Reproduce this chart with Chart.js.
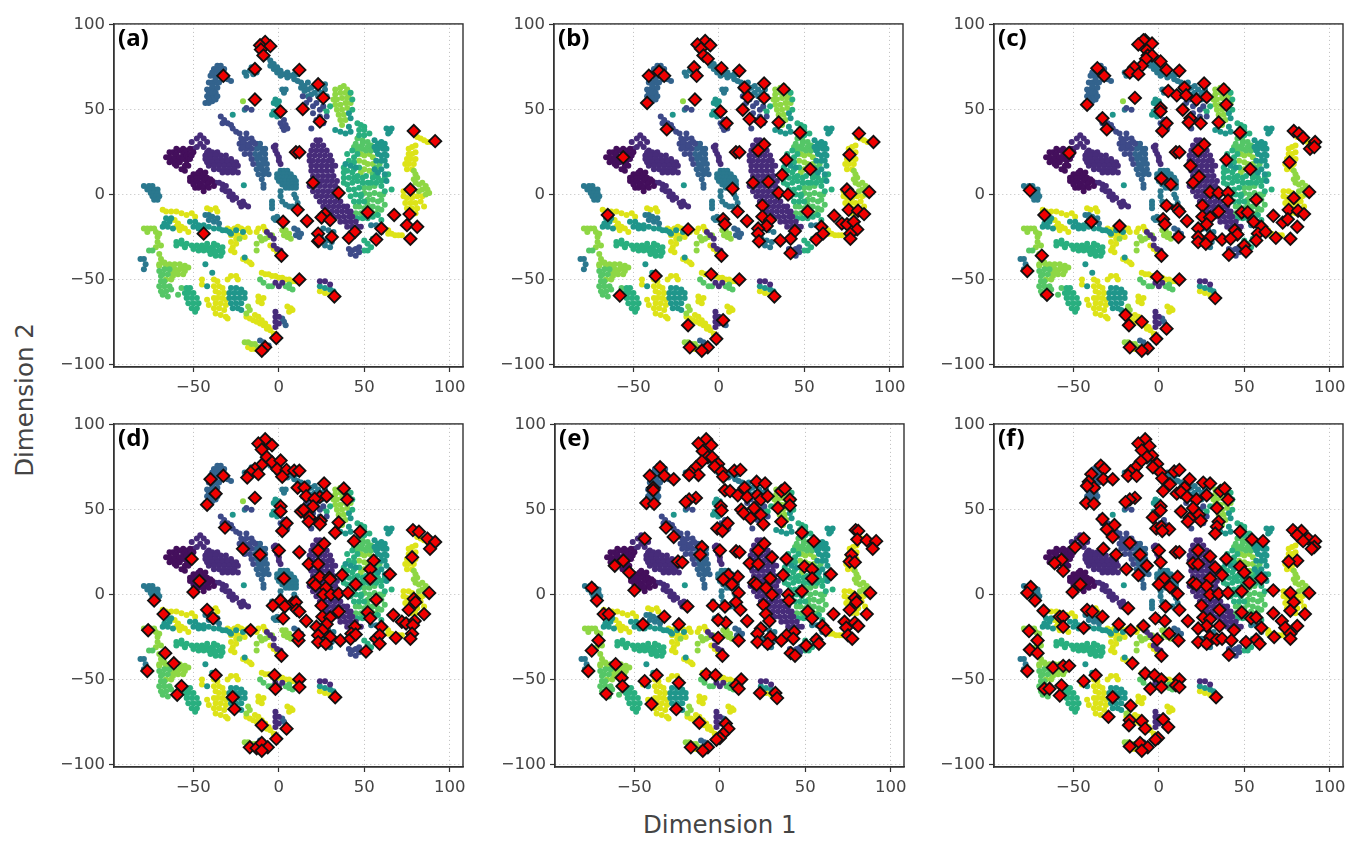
<!DOCTYPE html>
<html>
<head>
<meta charset="utf-8">
<title>t-SNE panels</title>
<script src="https://cdn.jsdelivr.net/npm/chart.js@4/dist/chart.umd.min.js"></script>
<style>
  html, body { margin: 0; padding: 0; background: #fff; width: 1364px; height: 841px; overflow: hidden; }
  canvas { position: absolute; filter: blur(0.35px); }
  .tag { position: absolute; font: bold 24px "Noto Sans", sans-serif; color: #000; }
  .axis-title { position: absolute; font: 24.5px "DejaVu Sans", sans-serif; color: #444; white-space: nowrap; }
</style>
</head>
<body>
<script>
const xTicks = [-50, 0, 50, 100];
const yTicks = [-100, -50, 0, 50, 100];
const xTitle = 'Dimension 1';
const yTitle = 'Dimension 2';
const panelTags = ['(a)', '(b)', '(c)', '(d)', '(e)', '(f)'];

// background cloud, same in every panel, split by colour band
const bg0 = [[-66,22],[-64,25],[-64,22],[-64,19],[-62,25],[-62,20],[-61,22],[-61,18],[-60,27],[-60,24],[-59,20],[-60,17],[-58,26],[-58,22],[-58,19],[-57,15],[-56,27],[-56,24],[-56,21],[-55,25],[-55,17],[-55,14],[-54,26],[-54,23],[-54,20],[-53,22],[-53,17],[-52,27],[-52,24],[-52,21],[-51,23],[-50,25],
  [-52,10],[-52,8],[-50,12],[-50,9],[-50,7],[-50,6],[-49,4],[-48,12],[-48,10],[-48,8],[-47,13],[-47,7],[-47,4],[-46,14],[-46,10],[-46,6],[-45,11],[-45,5],[-44,12],[-44,8],[-44,4],[-44,2],[-43,13],[-43,9],[-42,10],[-42,6],[-41,7],[-41,4],[-40,9],[-39,8],[-38,5]];
const bg1 = [[-51,31],[-50,27],[-48,28],[-48,33],[-46,35],[-46,30],[-44,33],[-44,28],[-42,31],[-41,26],
  [-42,25],[-39,25],[-36,25],[-43,23],[-40,23],[-37,23],[-34,23],[-31,23],[-43,21],[-40,21],[-37,21],[-34,21],[-31,21],[-28,21],[-42,19],[-39,19],[-36,19],[-33,19],[-30,19],[-27,19],[-25,19],[-41,17],[-38,17],[-35,17],[-32,17],[-29,17],[-26,17],[-24,17],[-38,15],[-35,15],[-32,15],[-29,15],[-26,15],[-33,13],[-30,13],[-27,13],[-24,13],
  [-37,7],[-35,7],[-33,6],[-33,3],[-31,5],[-31,2],[-29,2],[-29,-1],[-27,0],[-27,-3],[-25,-2],[-23,-5],[-21,-4],[-20,-6],[-22,-7],[-18,-7],
  [-2,29],[-3,28],[-2,26],[-1,24],[0,22],[0,20],[1,18],
  [22,32],[24,32],[20,29],[23,29],[26,29],[19,26],[22,26],[25,26],[28,26],[18,23],[21,23],[24,23],[27,23],[30,23],[18,20],[20,20],[23,20],[26,20],[29,20],[31,20],[19,17],[22,17],[25,17],[28,17],[31,17],[33,17],[19,14],[22,14],[25,14],[28,14],[31,14],[20,11],[23,11],[26,11],[29,11],[32,11],[19,8],[22,8],[25,8],[28,8],[31,8],[34,8],[18,5],[21,5],[24,5],[27,5],[30,5],[33,5],[20,2],[23,2],[26,2],[29,2],[32,2],[35,2],[22,-1],[25,-1],[28,-1],[31,-1],[34,-1],[24,-4],[27,-4],[30,-4],[33,-4],[36,-4],[26,-7],[29,-7],[32,-7],[35,-7],[38,-7],[40,-7],[28,-10],[31,-10],[34,-10],[37,-10],[40,-10],[42,-10],[32,-13],[35,-13],[38,-13],[41,-13],[43,-13],[36,-16],[39,-16],[42,-16],[45,-16],[40,-19],[43,-19],[46,-19],[48,-19],
  [-7,-22],[-5,-24],[-3,-26],[-3,-30],[-1,-32],[1,-33],[-2,-52],[0,-54],[2,-52],[24,-51],[27,-51],[30,-53],[-2,-69],[-2,-72],[-2,-75],[0,-72],[0,-76],[-2,-78]];
const bg2 = [[-34,46],[-32,44],[-33,42],[-30,42],[-28,41],[-27,39],[-25,37],[-23,36],
  [-19,36],[-22,33],[-19,33],[-16,33],[-23,30],[-20,30],[-17,30],[-14,30],[-22,27],[-19,27],[-16,27],[-20,24],[-17,24],[-16,21],[-15,18],[-21,31],[-18,29],[-15,31],[-21,28],
  [14,58],[16,54],[18,56],[20,52],[22,54],[24,50],[26,52],[20,48],[22,44],[24,46],[26,42],[28,46],[19,39],[-19,51],[-16,50],[1,42],[2,40],[3,38],[4,41],[5,39],[3,44],
  [41,-32],[43,-33],[45,-32],[47,-34],[42,-35],[45,-36],[47,-31]];
const bg3 = [[-13,30],[-11,30],[-13,27],[-10,27],[-8,27],[-14,24],[-11,24],[-8,24],[-13,21],[-10,21],[-8,21],[-12,18],[-9,18],[-7,18],[-13,15],[-10,15],[-7,15],[-12,12],[-9,12],[-6,12],[-10,9],[-9,6],[-9,4],[-12,28],[-9,25],[-12,22],[-9,19],[-11,16],[-8,13],
  [9,-20],[11,-21],[10,-24],[12,-25],[13,-23],[2,-73],[3,-75],[4,-77],[-11,-86],[-9,-87],[-8,-89],[-6,-89],
  [-36,76],[-34,76],[-38,74],[-36,73],[-34,73],[-32,74],[-40,70],[-38,70],[-36,70],[-34,70],[-41,66],[-39,66],[-37,66],[-35,66],[-42,62],[-40,62],[-38,62],[-42,58],[-40,58],[-38,58],[-43,54],[-41,54],[-39,55],[-30,68],[-28,67],[-33,72],[-39,72],[-37,68],[-33,68],[-39,64],[-41,60],[-39,60],[-37,60],[-41,56],[-37,56],[-36,63],[-36,58]];
const bg4 = [[-7,81],[-5,79],[-5,76],[-3,77],[-3,74],[-1,75],[-1,72],[1,73],[1,70],[3,71],[5,72],[5,69],[7,70],[9,71],[9,68],[11,71],[11,67],[13,66],[13,63],[15,64],[15,61],[17,66],[17,62],[17,58],[19,63],[19,59],[21,64],[21,60],[23,62],[23,58],[25,60],[25,56],[27,65],[27,62],[28,58],
  [1,14],[3,14],[5,14],[-1,12],[1,12],[3,12],[5,12],[7,12],[-1,10],[1,10],[3,10],[5,10],[7,10],[9,10],[0,8],[2,8],[4,8],[6,8],[8,8],[10,8],[2,6],[4,6],[6,6],[8,6],[10,6],[4,4],[6,4],[8,4],[10,4],[1,2],[1,-1],[2,-4],[4,-6],[6,-7],[8,-7],[10,-2],[9,0],[11,-5],[-4,-4],[-4,-6],[-4,-8],
  [-76,5],[-74,5],[-79,5],[-77,3],[-75,3],[-73,3],[-71,3],[-75,1],[-73,1],[-71,1],[-74,-1],[-72,-1],[-70,-1],[-73,-3],[-71,-3],
  [-20,72],[-19,70],[-17,73],[-16,75],[-15,71],[-13,72],[-20,50],[2,62],[4,62],[3,60],[-3,-14],[-2,-15],[0,-15],[-1,-13],
  [23,-22],[26,-20],[29,-21],[32,-22],[25,-26],[28,-27],[31,-28],[27,-30],[30,-31],[54,-18],[57,-18],[60,-22],[-81,-38],[-79,-38],[-78,-41],[-79,-44],
  [-43,-12],[-41,-12],[-39,-13],[-41,-15],[-38,-16],[-36,-14],[-35,-17]];
const bg5 = [[-27,47],[-3,54],[-2,56],[-1,53],[0,55],[-3,49],[-4,47],[-1,46],[0,48],[-20.5,5.5],[63,39],[65,37],[66,39],[64,36],[33,38],[36,37],[39,36],[42,37],[41,48],[42,45],[41,40],
  [56,32],[58,30],[60,31],[62,30],[56,28],[58,27],[61,27],[63,27],[58,24],[60,23],[62,24],[57,20],[60,20],[62,20],[63,17],[60,15],[62,12],[63,8],[39,18],[42,17],[45,16],[57,26],[60,29],[63,23],[58,13],[56,15],
  [-28,-55],[-25,-55],[-22,-56],[-29,-58],[-26,-58],[-23,-58],[-20,-58],[-29,-61],[-26,-61],[-23,-61],[-20,-61],[-28,-64],[-25,-64],[-22,-64],[-27,-67],[-24,-67],[-22,-68],
  [-68,-19],[-65,-19],[-62,-20],[-67,-17],[-66,-14],[-63,-14],[-64,-16],[-52,-16],[-49,-16],[-47,-18],[-50,-19],[-47,-20],[-44,-20],[-47,-19],[-44,-18],[-41,-19],[-38,-20],[-35,-20],[-33,-21],[-31,-21],[-29,-22],[-25,-21],[-21,-22],[-28,-23],[-20,-37],[-43,-41],[-39,-46],[-42,-54],[24,-54],[27,-55],[30,-56],[32,-57]];
const bg6 = [[26,51],[28,49],[30,52],[42,60],[43,56],[43,50],[46,42],[48,41],[50,40],[47,38],[50,38],[53,36],[50,35],[47,35],[40,24],[43,26],[44,22],[41,20],[38,16],[44,19],[46,24],[44,15],[47,16],[46,11],[49,10],[51,11],[49,7],[52,7],[54,7],[62,2],[60,8],[64,12],[48,-1],
  [38,13],[40,14],[43,13],[38,10],[41,10],[44,10],[38,7],[40,6],[43,7],[46,8],[41,3],[44,3],[47,4],[42,-1],[45,0],[48,0],[44,-4],[47,-4],[50,-4],[46,-14],[49,-14],[52,-14],[55,-13],[58,-12],[60,-15],
  [50,-27],[52,-29],[54,-31],[52,-33],[50,-33],[55,-26],[55,10],[58,10],[62,10],[57,7],[60,5],[57,12],[66,3],
  [-60,-28],[-57,-29],[-54,-29],[-51,-30],[-48,-30],[-45,-30],[-42,-31],[-39,-31],[-36,-30],[-33,-31],[-60,-30],[-47,-33],[-44,-33],[-41,-33],[-38,-33],[-35,-33],[-33,-34],[-40,-35],[-37,-36],[-34,-36],[-37,-34],[-45,-31],[-55,-31],[-50,-32],[-57,-27],[-42,-29],[-38,-29],
  [-54,-55],[-52,-55],[-55,-58],[-53,-58],[-50,-58],[-54,-61],[-51,-61],[-48,-61],[-53,-64],[-50,-64],[-47,-64],[-51,-67],[-48,-67],[-49,-69]];
const bg7 = [[45,30],[47,28],[49,27],[51,26],[50,4],[53,4],[56,5],[50,1],[53,0],[56,1],[59,0],[52,-3],[55,-3],[58,-4],[52,-6],[55,-7],[58,-8],[50,-8],[48,-11],[45,-11],[43,-12],[46,33],[49,32],[52,31],[54,29],[49,30],[52,28],[54,26],[57,16],[55,12],[59,18],[46,26],[44,28],[60,-3],[62,-6],[60,-9],[57,-11],[54,-10],[51,-11],[47,-7],[45,-7],[61,0],
  [-74,-33],[-76,-33],[-70,-45],[-67,-44],[-64,-44],[-68,-47],[-65,-47],[-69,-51],[-67,-51],[-70,-54],[-67,-54],[-64,-54],[-69,-57],[-66,-57],[-63,-56],[-68,-59],[-65,-60],[-59,-59],[-57,-55],[-53,-57],[-69,-48],
  [-11,-50],[-9,-52],[-6,-54],[-4,-54],[4,-54],[6,-55],[8,-56],[6,-53]];
const bg8 = [[33,62],[36,63],[38,64],[40,62],[33,59],[36,60],[39,60],[41,59],[32,56],[34,56],[37,57],[40,57],[33,53],[36,53],[39,54],[42,54],[34,50],[37,50],[40,51],[35,47],[38,47],[36,44],[39,44],[37,41],
  [48,24],[50,23],[53,24],[55,22],[47,20],[50,19],[52,18],[55,18],[50,15],[53,14],[48,13],[79,14],[80,12],[81,10],[79,9],[80,7],[82,6],[84,7],[86,5],[87,3],[84,3],[82,2],[88,1],[86,0],
  [-79,-20],[-77,-20],[-75,-20],[-73,-20],[-72,-22],[-77,-22],[-71,-25],[-71,-28],[-72,-31],[-70,-23],[-69,-30],[-70,-35],[-69,-38],[-70,-41],[-68,-40],[-70,-42],[-67,-40],[-64,-41],[-61,-41],[-58,-41],[-55,-42],[-53,-43],[-61,-44],[-58,-44],[-55,-45],[-62,-48],[-59,-47],[-66,-50],[-63,-50],[-63,-43],[-60,-46],[-57,-43],[-66,-42],[-62,-46],[-56,-47],
  [-21,55],[-23,-26],[-10,-27],[-8,-26],[-6,-25],[-4,-24],[-11,-25],[-13,-29],[-13,-33],[2,-21],[4,-21],[6,-23],[3,-24],[5,-25],[7,-26],[-18,-66],[-17,-68],[-19,-70],[-20,-87],[-18,-87],[-16,-88],[-14,-88],[-12,-90]];
const bg9 = [[78,28],[80,29],[76,27],[76,24],[78,24],[80,25],[75,21],[77,21],[80,21],[74,18],[76,18],[79,18],[75,15],[78,15],
  [73,2],[76,2],[78,1],[73,-1],[75,-2],[78,-2],[81,-1],[84,-1],[74,-5],[77,-5],[80,-5],[83,-4],[75,-8],[78,-8],[81,-8],[85,-7],[77,-11],[80,-11],
  [81,34],[83,33],[85,32],[87,31],[89,31],[64,-21],[66,-23],[68,-24],[70,-24],[72,-24],[64,-23],
  [-68,-9],[-66,-10],[-63,-10],[-60,-10],[-57,-11],[-54,-12],[-51,-11],[-49,-13],[-61,-15],[-59,-17],[-57,-19],[-55,-20],[-60,-19],[-58,-21],[-53,-22],
  [-42,-8],[-40,-9],[-37,-8],[-36,-10],[-30,-20],[-28,-21],[-26,-20],[-24,-19],[-22,-20],[-20,-21],[-18,-20],[-28,-24],[-25,-23],[-22,-24],[-20,-25],[-17,-22],
  [-28,-28],[-27,-31],[-26,-34],[-25,-29],[-28,-33],[-25,-26],[-12,-20],[-9,-19],[-13,-22],[-8,-21],[-5,-30],[-3,-32],[-1,-34],[1,-36],[-21,-38],[-19,-39],[-17,-40],[-16,-41],
  [-10,-46],[-8,-47],[-6,-47],[-4,-48],[-2,-48],[0,-49],[2,-49],[4,-50],[6,-50],[8,-51],[10,-51],[24,-57],[27,-58],[30,-59],
  [-38,-50],[-36,-51],[-38,-54],[-35,-54],[-33,-55],[-37,-57],[-35,-58],[-32,-58],[-38,-61],[-36,-61],[-33,-61],[-31,-62],[-37,-64],[-34,-64],[-31,-65],[-38,-67],[-35,-67],[-32,-68],[-37,-70],[-34,-71],[-31,-72],[-30,-73],[-42,-62],[-41,-65],[-45,-50],[-45,-53],[-28,-48],[-25,-48],[-24,-50],[-30,-50],
  [-12,-60],[-11,-62],[-10,-64],[-12,-63],[-9,-61],[5,-66],[7,-67],[8,-68],[6,-69],
  [-19,-72],[-17,-73],[-15,-74],[-13,-75],[-11,-76],[-9,-77],[-7,-79],[-5,-80],[-3,-82],[-14,-71],[-12,-72],[-10,-74],[-8,-76],[-6,-78],[-18,-90],[-16,-91],[-14,-91]];
const bgColors = ['#440f5c', '#472c7a', '#3e4a89', '#33638d', '#2a788e', '#1f968b', '#29af7f', '#55c667', '#8fd744', '#dde318'];

// selected points (red diamonds), one list per panel
const redsA = [[-8,90],[-11,88],[-5,87.5],[-10.5,85.5],[-9,82],[-14,74],[12,73.5],[-32.5,70],[23,65],[26,57],[-14,56],[14,50.5],[1,49],[24,43],[79,37.5],[91.5,31.5],[10,25],[12,25],[20,7],[35,1],[77,3],[11,-9],[52,-10.5],[67.5,-12],[76.5,-11.5],[27,-11.5],[25,-13.5],[30,-15],[16.5,-15.5],[2.5,-16],[75,-18],[81,-19],[60,-20],[44.5,-22],[23,-23],[-44,-23],[31,-25],[41,-25.5],[57,-26.5],[77,-26],[23,-27.5],[23.5,-27],[1.5,-36],[12,-50],[32.5,-60],[-1.5,-84.5],[-8,-90],[-10,-92]];
const redsB = [[-8,90.5],[-12.5,88.5],[-5,88],[-10.5,86],[-9,82],[-6.5,80],[-14.5,75],[1.5,74.5],[12,73],[-13,70],[-41,70],[-35,72.5],[-32,70],[26.5,65.5],[38,62],[15,63],[17,57.5],[26.5,57],[-14,56],[-42,54],[14,50],[1,49],[18,44.5],[4.5,42],[24.5,43],[35,42.5],[-30.5,38.5],[47.5,36.5],[82,36],[90.5,31],[26.5,29.5],[23,26],[10,25],[12,25],[76.5,23.5],[-56,22],[39.5,20.5],[53.5,15],[37,11.5],[29,7.5],[20,7],[8,3.5],[75,3],[77,0.5],[88,1.5],[35,1],[40.5,0],[25.5,-6.5],[11,-10],[52,-10],[76,-9],[81.5,-9.5],[85,-11.5],[-65,-12],[67.5,-12.5],[25.5,-13],[30,-15],[2.5,-14.5],[16.5,-15.5],[3.5,-17.5],[72,-17],[75,-17.5],[79,-16],[28,-18.5],[60,-19],[23,-20],[-18,-20.5],[81,-20.5],[44.5,-21.5],[61,-23],[77,-23],[23,-23],[42,-26],[57,-26.5],[36,-27],[77,-26],[23.5,-27.5],[42,-34.5],[1.5,-36],[-37,-48],[-4.5,-47],[12,-50],[32.5,-60],[-58,-59.5],[2.5,-74],[-18,-77],[-1.5,-85],[-17,-90],[-6.5,-90],[-10,-92]];
const redsC = [[-8,91],[-9,91],[-12,88.5],[-4,89],[-7,85],[-6.5,82],[-4,82],[-7.5,80],[-10,76],[1,78.5],[-14.5,75],[-17,72],[-12,71],[-36,74.5],[-32,70],[4.5,73.5],[12,73],[26.5,65.5],[38,62],[15,63],[5.5,61],[10.5,58.5],[16,58.5],[22,56],[28,57.5],[-14,57],[39.5,53],[-42,53],[1,51],[1,49],[14,50],[-33,45],[18.5,45],[17.5,42.5],[24.5,42],[4.5,42],[35,42.5],[2,37.5],[-30.5,38.5],[47.5,36.5],[79,37.5],[82,36],[84.5,33.5],[91.5,31],[88.5,27],[91,28],[26.5,29.5],[23,26],[10,25],[12,25],[-52.5,24.5],[39.5,20.5],[76.5,19],[18.5,17],[53.5,15],[23.5,10.5],[1.5,9.5],[20,7],[7,6],[-75.5,2.5],[30,1.5],[35,1],[40.5,1],[88,1.5],[79,-2],[40.5,-3.5],[57,-3],[25.5,-6.5],[4.5,-6.5],[11,-8.5],[12,-10],[35,-10],[48.5,-10.5],[52,-10.5],[76,-9],[81.5,-9.5],[85,-11.5],[-67,-12],[67,-12.5],[25.5,-13],[2.5,-14.5],[30,-13.5],[16.5,-15.5],[55.5,-16],[72.5,-16.5],[75.5,-14.5],[-39.5,-16],[3.5,-17.5],[28,-17.5],[-23,-18.5],[81,-19],[60,-19],[23,-20],[58,-23],[62.5,-22],[44.5,-21],[46,-23.5],[11.5,-25],[23,-25],[30,-25],[68.5,-25.5],[77,-26],[37,-26.5],[42,-26],[57,-27],[23,-28],[27.5,-29],[50,-30],[51,-33.5],[41,-35.5],[-68.5,-36],[1.5,-36],[-77,-45],[-1,-48.5],[12,-50],[33,-61],[-65.5,-59],[-19.5,-71],[-17.5,-77],[-10,-75],[4.5,-79],[-1.5,-85],[-17,-90],[-6.5,-90.5],[-10,-92]];
const redsD = [[-8,91.5],[-12,89],[-4,88],[-10,85.5],[-7,81],[-4,78],[-10,76.5],[1,79],[-14,74],[-16.5,72],[-12,71],[-18.5,69],[-1,74],[4.5,73.5],[9,73],[12,73],[2,69.5],[-32.5,70],[-40,68],[26.5,65.5],[38,62.5],[11,63],[15,63],[16,58],[24,57.5],[21,56.5],[28,58],[-37,59.5],[-14,57],[40,56],[-42,53],[1,52],[1,49],[20,52],[13,49],[14.5,50],[18,45.5],[17.5,43],[24.5,43.5],[24,41.5],[35,42.5],[4.5,42],[-31.5,39.5],[2,37.5],[33,36.5],[47.5,37],[78.5,38],[82,37],[87,33],[91.5,31],[88.5,27],[44,31.5],[26.5,30],[23,26],[12,25],[0,26],[-21,27],[-11,23.5],[-51,21],[78,22],[55.5,20],[17.5,18],[23,18],[53.5,15],[65,12],[37,11.5],[24,10.5],[29.5,10],[53.5,9.5],[3,9.5],[-46.5,8],[20,7],[21.5,5.5],[27.5,4],[45,6],[-50,1.5],[30,9],[26,0],[30.5,0],[35,0.5],[40.5,1],[88,1],[-73,-3.5],[1,-3.5],[57,-3],[79,-2.5],[80,-4.5],[-3.5,-6.5],[8,-5],[10,-4.5],[3.5,-7],[25,-6.5],[-42,-9],[10.5,-9],[12,-10],[35,-10],[52,-10.5],[76,-9],[85,-11.5],[-67.5,-11.5],[67,-12],[25.5,-13],[-38.5,-14],[53.5,-14],[2.5,-14],[30,-13.5],[16,-15.5],[72,-16],[74.5,-17],[79.5,-15.5],[78.5,-18],[28,-17.5],[22,-19],[60,-19],[44.5,-19],[-76.5,-21],[-16.5,-21],[25.5,-21],[42.5,-23],[78,-23],[23,-24],[30,-25],[68.5,-25.5],[77,-26],[11.5,-27],[11.5,-24],[36,-27],[42,-26],[45,-23.5],[57,-26],[59,-24],[59,-29],[23,-28],[27.5,-29],[51,-33.5],[-66.5,-34.5],[1.5,-36],[-61.5,-40.5],[-77,-45],[-37,-47.5],[-2.5,-47.5],[12,-50],[-57,-54],[-2,-55.5],[12,-54.5],[-59.5,-59],[-27,-60.5],[33,-60.5],[-26,-67.5],[-10,-77],[4.5,-79],[-1.5,-85],[-17,-90],[-13,-90.5],[-10,-87.5],[-6.5,-90],[-10,-92]];
const redsE = [[-8,91.5],[-12.5,89],[-5,88],[-10,84.5],[-7,81],[-4.5,81],[-10.5,78.5],[-1,77],[-14,75],[-17,72],[-12.5,70.5],[-18,70.5],[-3,75.5],[1,72.5],[2,69.5],[8.5,73],[12,73.5],[-35,75],[-41,70],[-32.5,70],[-27,68],[21.5,66.5],[26.5,65.5],[-39,63],[-39,61.5],[14.5,63],[3,61.5],[6,61],[10.5,58.5],[16,57.5],[22,58.5],[24,56],[28,58],[36,61],[38,62.5],[-14,57],[-18,56],[-20,54.5],[-43,54],[-38.5,53.5],[41,56],[41,52.5],[34,51],[20,51],[0.5,52],[1,49.5],[12.5,50],[14,48],[24,47],[18,45],[25.5,41.5],[36,43],[4.5,42],[-1.5,39],[1.5,37.5],[-31.5,39.5],[-27,34],[-44,33],[48,36.5],[79.5,38],[81,37.5],[80.5,32.5],[86,32],[91.5,31.5],[89.5,27],[55,31.5],[26,30],[22.5,26],[-10.5,28],[-11.5,23.5],[0,26],[9.5,25.5],[11.5,25],[-24.5,19.5],[-22,19],[-56.5,20],[-61.5,17],[-53,13],[30.5,22],[39,21],[77,23.5],[76,19.5],[79,19],[17.5,18.5],[22.5,18],[49.5,16.5],[54,15],[65,12],[37,11.5],[10.5,10.5],[5,11.5],[2,9],[7,6],[54,9.5],[29.5,9.5],[20,7],[21.5,6],[27,4],[-50,2.5],[-75,4],[48,2],[30.5,0],[40,0],[11,1],[88,1],[-72,-3.5],[40.5,-3.5],[79,-2],[80,-4.5],[9.5,-4.5],[25.5,-6],[-4,-6.5],[3,-7],[-19,-7],[76,-9],[12,-9],[51.5,-10],[-68,-11.5],[-65,-11.5],[66.5,-11.5],[86,-11.5],[27,-11.5],[-32.5,-13],[54,-14],[3.5,-16.5],[-1,-15],[16,-15.5],[29,-15.5],[-45,-17.5],[-24,-17.5],[73,-16],[79,-16.5],[81,-18.5],[74,-19.5],[60,-18.5],[24,-20],[62,-21],[43.5,-22],[22,-23],[75,-24],[29.5,-25],[-1,-25.5],[77.5,-26],[39,-24],[43,-26],[36,-27],[56.5,-26.5],[-71,-27],[11,-27],[58,-29],[22,-28],[28,-29],[50.5,-30],[-75,-33],[41.5,-34.5],[44,-36],[1.5,-36],[-61,-41],[-77,-45],[-57.5,-49],[-37,-47.5],[-8,-47],[-2.5,-47.5],[-44,-51],[-24,-52],[12.5,-50],[-57,-54],[9.5,-53.5],[11,-55.5],[-66.5,-58.5],[23.5,-58],[32.5,-58],[33.5,-61],[-40,-64.5],[-25.5,-67.5],[-12,-75.5],[3.5,-76],[5,-79],[2,-82],[0,-84.5],[-2,-85.5],[-17,-90],[-7,-90],[-10,-92]];
const redsF = [[-8,91.5],[-12,89],[-5.5,87.5],[-10,85],[-4,82],[-7,81],[-10.5,78.5],[-1,77],[-13.5,75],[-16.5,72.5],[-18,70],[-13,70],[-3.5,75],[1,72],[2,68.5],[9,72.5],[12,73.5],[-34,76],[-32,74],[-39.5,71],[-32.5,68],[-27,68],[-41,66.5],[-38,63],[-42,64],[18,68],[26,66],[30,65.5],[6.5,65],[2.5,61],[15,63],[10.5,59.5],[13,60.5],[16.5,57.5],[22,56],[28,58.5],[36,61],[38.5,62.5],[40.5,56],[-14,57],[-17,56],[-19.5,54.5],[-42.5,54],[-38,53.5],[34,51],[1,52],[1,49.5],[13,49],[20,51],[23.5,47],[18,45],[17,43],[24.5,43.5],[-3.5,45.5],[35,43],[34,40],[-33,44.5],[-26,41],[-1.5,39],[1.5,40],[6,38.5],[2,37.5],[-30.5,38.5],[33,36],[47.5,37],[-27,34],[78.5,38],[83.5,37.5],[81,35],[87.5,33],[84.5,31.5],[91.5,31.5],[91,28],[89.5,27],[54.5,32.5],[61,31.5],[-44,33],[-49,28],[-17,30.5],[23,26],[-32.5,27],[0,26],[10,25],[12,25],[-25,23.5],[-11,23.5],[30,22.5],[39.5,21],[-57,20.5],[-61,18.5],[81,20],[76,19.5],[1,19],[20,18.5],[23,18],[-56,14],[-7,17],[-19,15],[33,16],[47.5,16.5],[50,13],[-12,11.5],[37,11.5],[11,10.5],[3,9.5],[60,9.5],[30,9.5],[20,7],[22,6],[53,7],[0,6],[-46,6],[6.5,4.5],[28,5],[67,2.5],[-75,4.5],[-77,1],[-50.5,1.5],[30,0],[35,0.5],[40.5,1],[48.5,2],[77,1],[88,1],[11,0.5],[-72.5,-3.5],[79,-4.5],[25,-6.5],[4,-7],[-18,-8],[12,-9],[77,-9.5],[35.5,-9],[-67.5,-9.5],[-42,-9],[-39,-10],[48.5,-10.5],[67,-11],[85.5,-11.5],[-58,-13],[-56,-13],[-33,-13],[54,-14],[57,-13.5],[26,-13.5],[-2,-14],[3.5,-15.5],[17,-15.5],[30,-14.5],[72,-15.5],[-23.5,-17.5],[-9,-18.5],[-56,-19],[-44,-19.5],[28,-18.5],[35.5,-18.5],[60,-19.5],[81,-18.5],[74,-19.5],[-76,-21.5],[-16.5,-21],[23,-20],[44,-21],[6,-23],[77,-23],[-71,-27],[-1,-26.5],[11.5,-27],[67.5,-25],[30,-25],[34,-26.5],[37,-26],[42.5,-27],[57,-26.5],[23,-28],[51,-28],[59,-29],[28,-29],[77,-26],[-75.5,-32.5],[-71,-34.5],[41,-35.5],[1.5,-36],[-15.5,-40.5],[-62,-43],[-56,-42],[-52.5,-42],[-77,-45],[-37,-47.5],[-8,-46.5],[-2.5,-47.5],[1.5,-50],[12,-50],[-44,-51],[-57,-53.5],[-5,-55.5],[1.5,-54.5],[10,-53.5],[12,-54.5],[-67,-55.5],[-64,-55.5],[-58,-59.5],[-27,-60.5],[33.5,-60.5],[-16.5,-65.5],[-29.5,-72],[-17,-74],[-10,-74.5],[2.5,-73.5],[-17.5,-77],[5.5,-78],[-8,-79],[-0.5,-84.5],[-2,-85.5],[-17,-89.5],[-11,-87.5],[-6.5,-90],[-10,-92]];

const bgSeries = [bg0, bg1, bg2, bg3, bg4, bg5, bg6, bg7, bg8, bg9];
const redSeries = [redsA, redsB, redsC, redsD, redsE, redsF];

const plotLefts = [114, 554, 994, 114, 555, 994];
const plotTops = [22, 22, 22, 422, 422, 422];
const plotW = 349;
const plotH = 345;
const padLeft = 52, padTop = 12, padRight = 24, padBottom = 34;

const toPoints = arr => arr.map(p => ({ x: p[0], y: p[1] }));
const tickText = v => (v < 0 ? '\u2212' + Math.abs(v) : String(v));

// matplotlib style closed frame
const framePlugin = {
    id: 'frame',
    afterDatasetsDraw(chart) {
        const a = chart.chartArea, c = chart.ctx;
        c.save();
        c.strokeStyle = '#333';
        c.lineWidth = 1.4;
        c.strokeRect(a.left, a.top, a.right - a.left, a.bottom - a.top);
        c.restore();
    }
};

function axis(min, max, ticks, isX) {
    return {
        type: 'linear',
        min: min,
        max: max,
        afterBuildTicks: s => { s.ticks = ticks.map(v => ({ value: v })); },
        afterFit: s => {
            if (isX) s.height = padBottom; else s.width = padLeft;
        },
        grid: { color: '#bdbdbd', lineWidth: 1, tickColor: '#333', tickLength: 5, tickWidth: 1.2, drawOnChartArea: true },
        border: { color: '#333', width: 1.3, dash: [1, 3] },
        ticks: {
            color: '#444',
            font: { family: 'DejaVu Sans', size: 16.5 },
            padding: isX ? 6 : 4,
            maxRotation: 0,
            autoSkip: false,
            callback: v => tickText(v)
        }
    };
}

panelTags.forEach((tag, i) => {
    const cv = document.createElement('canvas');
    const w = padLeft + plotW + padRight, h = padTop + plotH + padBottom;
    cv.width = w; cv.height = h;
    cv.style.left = (plotLefts[i] - padLeft) + 'px';
    cv.style.top = (plotTops[i] - padTop) + 'px';
    cv.style.width = w + 'px'; cv.style.height = h + 'px';
    document.body.appendChild(cv);

    const datasets = [{
        data: toPoints(redSeries[i]),
        pointStyle: 'rectRot',
        pointRadius: 6.2,
        pointBackgroundColor: '#f00000',
        pointBorderColor: '#111',
        pointBorderWidth: 1.8
    }];
    bgSeries.forEach((s, k) => {
        datasets.push({ data: toPoints(s), pointRadius: 3, pointBorderWidth: 0, pointBackgroundColor: bgColors[k] });
    });

    new Chart(cv, {
        type: 'scatter',
        data: { datasets: datasets },
        plugins: [framePlugin],
        options: {
            responsive: false,
            animation: false,
            devicePixelRatio: 1,
            layout: { padding: { top: padTop, right: padRight, left: 0, bottom: 0 } },
            plugins: { legend: { display: false }, tooltip: { enabled: false } },
            scales: {
                x: axis(-96.5, 107.8, xTicks, true),
                y: axis(-101.6, 100.6, yTicks, false)
            }
        }
    });

    const t = document.createElement('div');
    t.className = 'tag';
    t.textContent = tag;
    t.style.left = (plotLefts[i] + 4) + 'px';
    t.style.top = (plotTops[i] - 2) + 'px';
    document.body.appendChild(t);
});

const xt = document.createElement('div');
xt.className = 'axis-title';
xt.textContent = xTitle;
xt.style.left = '643px';
xt.style.top = '810px';
document.body.appendChild(xt);

const yt = document.createElement('div');
yt.className = 'axis-title';
yt.textContent = yTitle;
yt.style.left = '24px';
yt.style.top = '400px';
yt.style.transform = 'translate(-50%, -50%) rotate(-90deg)';
document.body.appendChild(yt);
</script>
</body>
</html>
